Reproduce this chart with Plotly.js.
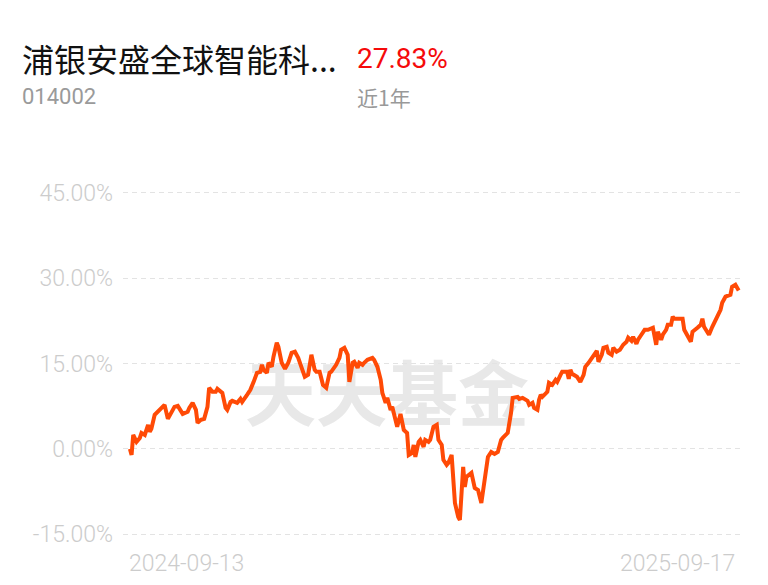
<!DOCTYPE html>
<html>
<head>
<meta charset="utf-8">
<script src="https://cdn.plot.ly/plotly-3.0.1.min.js"></script>
<style>
  html, body { margin:0; padding:0; background:#ffffff; }
  #wrap { position:relative; width:768px; height:585px; }
  #wm { position:absolute; left:245px; top:344px; width:282px; text-align:center;
        font-family:"Noto Sans CJK SC"; font-weight:700; font-size:71px; line-height:90px;
        color:#e8e8e8; z-index:0; white-space:nowrap; }
  #chart { position:absolute; left:0; top:0; width:768px; height:585px; z-index:1; }
</style>
</head>
<body>
<div id="wrap">
  <div id="wm">天天基金</div>
  <div id="chart"></div>
</div>
<script>
const startDate = "2024-09-13";
const endDate = "2025-09-17";
const fundName = "浦银安盛全球智能科...";
const fundCode = "014002";
const periodReturn = "27.83%";
const periodLabel = "近1年";
const watermark = "天天基金";
const yTickVals = [-15, 0, 15, 30, 45];
const yTickText = ["-15.00%", "0.00%", "15.00%", "30.00%", "45.00%"];

// days since 2024-09-13
const dayOffsets = [
  0,1,2,4,6,7,9,11,12,13,
  15,17,19,21,23,25,27,29,30,32,
  35,36,38,40,41,43,45,47,48,50,
  52,53,56,58,59,61,62,65,67,68,
  71,73,75,77,79,80,81,83,84,86,
  87,89,90,92,94,96,98,100,102,104,
  106,108,110,112,113,115,117,119,121,122,
  124,125,127,128,130,132,133,135,136,138,
  139,141,142,144,147,148,150,152,153,155,
  156,158,159,161,162,164,166,168,169,171,
  172,173,175,176,178,179,181,182,184,186,
  187,189,190,192,193,195,196,197,199,200,
  202,203,204,206,207,209,211,213,214,216,
  217,219,221,223,225,226,228,229,231,232,
  235,236,238,241,242,244,245,247,248,249,
  250,253,254,256,258,259,261,262,265,266,
  267,268,271,273,275,276,278,280,282,283,
  284,286,287,289,290,292,293,295,297,299,
  301,302,304,305,307,308,310,312,314,316,
  317,319,320,322,323,325,326,328,329,330,
  332,335,336,338,340,341,343,344,346,347,
  348,350,351,353,356,358,359,361,364,365,
  367,368,369
];
// cumulative return, %
const returns = [
  0.00,-1.06,2.46,1.23,1.93,2.81,2.46,4.22,2.99,3.52,
  5.98,6.51,7.21,7.74,5.28,6.51,7.39,7.56,7.03,6.15,
  6.51,7.21,8.09,6.86,4.57,5.10,5.28,7.39,10.73,10.02,
  10.02,10.55,9.85,7.21,6.86,8.26,8.44,8.09,8.79,8.26,
  9.50,10.37,11.78,13.36,13.54,14.77,13.89,13.36,15.12,14.42,
  16.18,18.64,17.94,15.12,14.07,15.12,16.88,17.06,16.00,14.24,
  12.66,13.01,16.53,13.89,13.54,13.54,11.25,10.73,13.36,13.54,
  14.42,14.77,16.00,17.41,17.76,16.53,11.78,15.12,15.30,14.24,
  15.12,14.77,15.12,15.65,16.00,15.65,14.42,12.13,9.85,8.09,
  8.97,6.86,7.39,5.10,3.87,6.15,3.34,2.81,-1.06,-0.70,
  0.70,-1.41,1.23,1.58,0.35,1.58,1.23,1.58,3.87,4.22,
  1.58,0.70,-1.93,-2.81,-2.46,-1.06,-5.10,-9.50,-11.96,-12.48,
  -3.17,-6.68,-4.92,-4.57,-4.22,-6.86,-7.21,-9.50,-7.56,-3.69,
  -1.41,-0.53,-0.88,-0.53,1.58,1.93,2.46,2.81,6.33,8.97,
  9.14,8.79,8.97,8.44,7.74,8.09,7.21,6.86,8.62,9.50,
  9.14,10.02,11.61,11.25,12.13,11.78,13.01,13.54,13.54,12.31,
  13.89,13.19,12.66,11.78,13.01,14.42,15.12,16.00,17.06,17.23,
  15.30,16.53,17.76,17.94,16.88,16.53,17.76,17.06,17.41,18.29,
  18.82,19.52,18.99,19.69,18.46,19.17,20.05,20.92,20.92,21.28,
  21.28,18.29,20.57,19.17,20.05,20.92,21.80,21.80,23.21,22.86,
  22.86,22.86,20.92,19.69,18.82,20.57,20.92,21.28,21.80,22.86,
  21.45,20.57,20.05,21.45,23.04,24.44,25.67,26.73,27.08,28.49,
  28.84,28.13,27.83
];

document.getElementById('wm').textContent = watermark;

const DAY = 86400000;
const t0 = Date.parse(startDate + "T00:00:00Z");
function dateAt(off) { return new Date(t0 + off * DAY).toISOString().slice(0, 19).replace('T', ' '); }
const dates = dayOffsets.map(dateAt);

const W = 768, H = 585;
const mL = 123, mR = 27, mT = 187, mB = 45;
const pw = W - mL - mR, ph = H - mT - mB;
const px = v => (v - mL) / pw;
const py = v => (H - mB - v) / ph;

const tickFont = { family: 'Roboto', size: 23, color: '#cccccc', weight: 300 };

const trace = {
  x: dates, y: returns, type: 'scatter', mode: 'lines',
  line: { color: '#ff4a06', width: 4, shape: 'linear' },
  hoverinfo: 'skip'
};

const layout = {
  width: W, height: H,
  margin: { l: mL, r: mR, t: mT, b: mB, pad: 0 },
  paper_bgcolor: 'rgba(0,0,0,0)', plot_bgcolor: 'rgba(0,0,0,0)',
  showlegend: false,
  xaxis: {
    type: 'date',
    range: [dateAt(-4.2), dateAt(370.4)],
    showgrid: false, zeroline: false, showline: false, showticklabels: false, ticks: ''
  },
  yaxis: {
    range: [-16, 46],
    tickvals: yTickVals, ticktext: yTickText,
    showgrid: true, gridcolor: '#e3e3e3', gridwidth: 1, griddash: '5px,4px',
    zeroline: false, showline: false, ticks: '',
    ticklabelstandoff: 9,
    tickfont: tickFont
  },
  annotations: [
    { xref: 'paper', yref: 'paper', x: px(20), y: py(58), xanchor: 'left', yanchor: 'middle',
      text: fundName, showarrow: false,
      font: { family: 'Noto Sans CJK SC', size: 32, color: '#111111' } },
    { xref: 'paper', yref: 'paper', x: px(355), y: py(58), xanchor: 'left', yanchor: 'middle',
      text: periodReturn, showarrow: false,
      font: { family: 'Roboto', size: 28, color: '#f50a0a' } },
    { xref: 'paper', yref: 'paper', x: px(20), y: py(97), xanchor: 'left', yanchor: 'middle',
      text: fundCode, showarrow: false,
      font: { family: 'Roboto', size: 22, color: '#9a9a9a', weight: 400 } },
    { xref: 'paper', yref: 'paper', x: px(355), y: py(97), xanchor: 'left', yanchor: 'middle',
      text: periodLabel, showarrow: false,
      font: { family: 'Noto Sans CJK SC', size: 21, color: '#999999' } },
    { xref: 'x', yref: 'paper', x: dates[0], y: py(563), xanchor: 'left', yanchor: 'middle',
      text: startDate, showarrow: false, xshift: -3,
      font: tickFont },
    { xref: 'paper', yref: 'paper', x: px(737), y: py(563), xanchor: 'right', yanchor: 'middle',
      text: endDate, showarrow: false,
      font: tickFont }
  ]
};

Plotly.newPlot('chart', [trace], layout, { displayModeBar: false, staticPlot: true });
</script>
</body>
</html>
